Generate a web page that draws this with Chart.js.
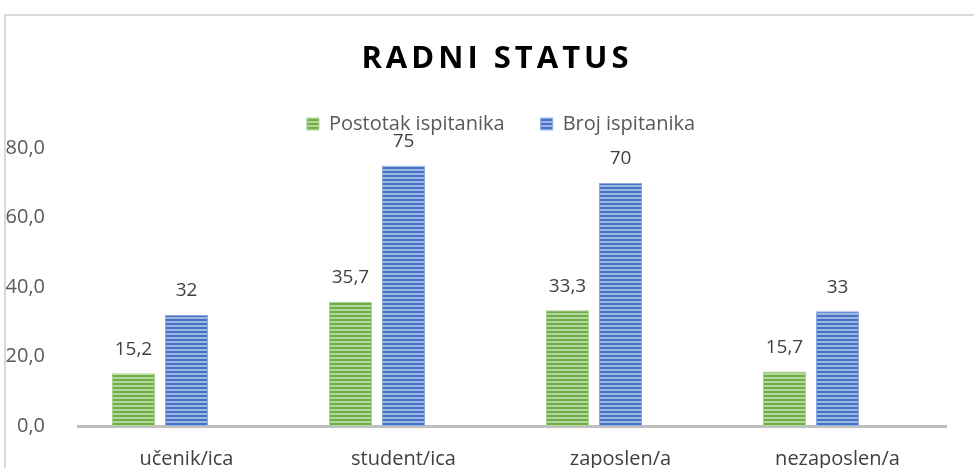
<!DOCTYPE html>
<html>
<head>
<meta charset="utf-8">
<script src="https://cdn.jsdelivr.net/npm/chart.js@4.4.1/dist/chart.umd.min.js"></script>
<style>
  html, body { margin: 0; padding: 0; background: #fff; overflow: hidden; }
  #wrap { position: relative; width: 974px; height: 468px; }
</style>
</head>
<body>
<div id="wrap"><canvas id="chart"></canvas></div>
<script>
// --- chart data ---
const categories = ['učenik/ica', 'student/ica', 'zaposlen/a', 'nezaposlen/a'];
const postotak = [15.2, 35.7, 33.3, 15.7];
const broj = [32, 75, 70, 33];
const empty = [null, null, null, null]; // third (unused) series keeps the bar groups offset like the original
const yTicks = [0, 20, 40, 60, 80];
const titleText = 'RADNI STATUS';

const FONT = "'Open Sans', 'Noto Sans', sans-serif";
const fmt = v => (Number.isInteger(v) ? String(v) : v.toFixed(1).replace('.', ','));

// striped fill like the Excel pattern
function stripes(base, light) {
  const c = document.createElement('canvas');
  c.width = 4; c.height = 4;
  const g = c.getContext('2d');
  g.fillStyle = base; g.fillRect(0, 0, 4, 4);
  g.fillStyle = light; g.fillRect(0, 1, 4, 2);
  return g.createPattern(c, 'repeat');
}
const greenFill = stripes('#6fad47', '#b5d69c');
const blueFill = stripes('#4472c4', '#9db6e3');

// frame + title drawn by hand (canvas letterSpacing for the spaced title)
const framePlugin = {
  id: 'frame',
  beforeInit(chart) {
    // fixed legend box height
    const fit = chart.legend.fit;
    chart.legend.fit = function () { fit.call(this); this.height = 70; };
  },
  afterLayout(chart) {
    // legend sits a little right of centre in the original
    chart.legend.left += 28;
    chart.legend.right += 28;
  },
  beforeDraw(chart) {
    const ctx = chart.ctx;
    ctx.save();
    ctx.strokeStyle = '#d9d9d9';
    ctx.lineWidth = 2;
    ctx.strokeRect(5, 15, chart.width + 20, chart.height + 20);
    ctx.fillStyle = '#000';
    ctx.font = 'bold 31px ' + FONT;
    ctx.letterSpacing = '4px';
    ctx.textAlign = 'center';
    ctx.textBaseline = 'middle';
    ctx.fillText(titleText, 497, 59);
    ctx.restore();
  }
};

// value labels above the bars
const labelPlugin = {
  id: 'valueLabels',
  afterDatasetsDraw(chart) {
    const ctx = chart.ctx;
    ctx.save();
    ctx.fillStyle = '#404040';
    ctx.font = '19px ' + FONT;
    ctx.textAlign = 'center';
    ctx.textBaseline = 'middle';
    chart.data.datasets.forEach((ds, i) => {
      const meta = chart.getDatasetMeta(i);
      meta.data.forEach((bar, j) => {
        const v = ds.data[j];
        if (v == null) return;
        ctx.fillText(fmt(v), bar.x, bar.y - 24);
      });
    });
    ctx.restore();
  }
};

new Chart(document.getElementById('chart'), {
  type: 'bar',
  data: {
    labels: categories,
    datasets: [
      { label: 'Postotak ispitanika', data: postotak, backgroundColor: greenFill, borderColor: '#a9d18e', borderWidth: 1, borderSkipped: 'bottom' },
      { label: 'Broj ispitanika', data: broj, backgroundColor: blueFill, borderColor: '#8faadc', borderWidth: 1, borderSkipped: 'bottom' },
      { label: '', data: empty, backgroundColor: 'transparent' }
    ]
  },
  options: {
    responsive: true,
    maintainAspectRatio: false,
    animation: false,
    categoryPercentage: 0.733,
    barPercentage: 0.811,
    layout: { padding: { top: 78, right: 28, left: 0, bottom: 0 } },
    plugins: {
      title: { display: false },
      tooltip: { enabled: false },
      legend: {
        position: 'top',
        labels: {
          filter: item => item.text !== '',
          color: '#595959',
          font: { family: FONT, size: 20 },
          boxWidth: 12,
          boxHeight: 12,
          padding: 36
        }
      }
    },
    scales: {
      x: {
        grid: { display: false },
        border: { display: true, color: '#bfbfbf', width: 3 },
        ticks: { color: '#404040', font: { family: FONT, size: 20 }, padding: 13 },
        afterFit(scale) { scale.height = 42; }
      },
      y: {
        min: 0,
        max: 80,
        afterBuildTicks(scale) { scale.ticks = yTicks.map(v => ({ value: v })); },
        grid: { display: false },
        border: { display: false },
        ticks: { color: '#595959', font: { family: FONT, size: 20 }, padding: 25, callback: v => v.toFixed(1).replace('.', ',') },
        afterFit(scale) { scale.width = 78; }
      }
    }
  },
  plugins: [framePlugin, labelPlugin]
});
</script>
</body>
</html>
